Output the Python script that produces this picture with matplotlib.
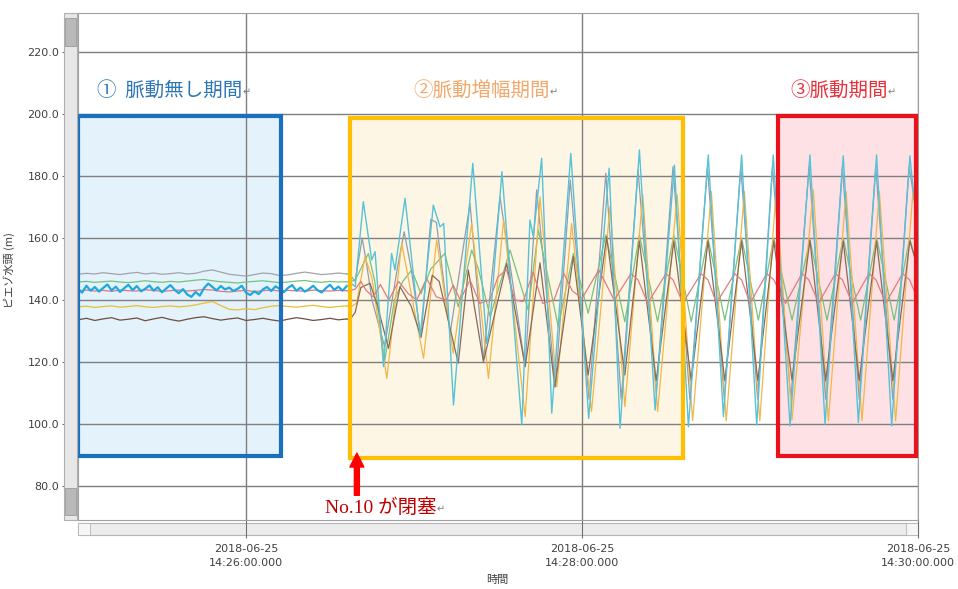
import numpy as np
import matplotlib.pyplot as plt
from matplotlib.patches import Rectangle

plt.rcParams['font.family'] = ['Noto Sans CJK JP', 'DejaVu Sans']

W, H = 958, 589

# x軸: 14:25:00 からの経過秒
x_ticks = [60, 180, 300]
x_ticklabels = ['2018-06-25\n14:26:00.000', '2018-06-25\n14:28:00.000',
                '2018-06-25\n14:30:00.000']
y_ticks = [80, 100, 120, 140, 160, 180, 200, 220]

# 脈動無し期間 (3秒ごと, シアンのみ1.5秒ごと)
gray_flat = [148.3, 148.6, 148.4, 148.8, 148.5, 148.2, 148.6, 148.9, 148.4, 148.7, 148.3,
             148.5, 148.8, 148.4, 148.6, 149.3, 149.7, 149.0, 148.3, 148.0, 147.7, 148.2,
             148.7, 148.5, 147.9, 148.1, 148.6, 149.0, 148.6, 148.2, 148.4, 148.7, 148.4]
green_flat = [145.8, 146.0, 145.7, 145.9, 146.1, 145.8, 145.6, 145.9, 146.2, 145.9, 145.7,
              146.0, 145.8, 146.1, 146.4, 146.6, 146.2, 145.9, 145.7, 145.5, 145.8, 146.0,
              146.2, 145.9, 145.6, 145.8, 146.1, 146.3, 145.9, 145.7, 146.0, 145.8, 145.9]
yellow_flat = [137.8, 138.0, 137.6, 137.9, 138.1, 137.7, 137.9, 138.2, 137.8, 137.6, 137.9,
               138.1, 137.8, 138.0, 138.4, 139.0, 139.5, 138.2, 137.0, 136.8, 137.2, 136.9,
               137.5, 138.0, 138.2, 137.9, 137.7, 138.0, 138.3, 137.9, 137.6, 137.9, 138.1]
brown_flat = [133.6, 134.1, 133.4, 133.9, 134.3, 133.5, 133.8, 134.2, 133.3, 133.9, 134.4,
              133.7, 133.2, 133.8, 134.3, 134.6, 134.0, 133.5, 133.9, 134.2, 133.4, 133.7,
              134.1, 133.6, 133.2, 133.8, 134.3, 133.9, 133.4, 133.7, 134.1, 133.6, 133.9]
red_flat = [143.0, 143.2, 142.9, 143.1, 142.8, 143.2, 143.0, 142.9, 143.3, 143.1, 142.8,
            143.0, 143.2, 142.9, 143.1, 143.4, 143.2, 142.8, 142.6, 142.9, 143.1, 142.7,
            143.0, 143.2, 142.9, 143.1, 143.0, 142.8, 143.2, 143.0, 142.9, 143.1, 143.0]
cyan_flat = [143.5, 142.4, 144.6, 143.0, 144.2, 142.7, 143.9, 145.0, 143.1, 144.3, 142.6,
             143.8, 144.9, 143.2, 144.5, 142.8, 143.6, 144.7, 143.0, 144.1, 142.5, 143.7,
             144.8, 143.3, 142.2, 143.5, 141.8, 141.0, 142.6, 141.4, 143.8, 145.3, 144.2,
             143.1, 144.5, 143.4, 144.0, 142.9, 143.6, 144.6, 142.4, 141.6, 142.8, 141.9,
             143.4, 144.2, 142.9, 144.4, 143.6, 142.5, 143.9, 144.8, 143.0, 144.0, 142.7,
             143.5, 144.6, 143.2, 142.4, 143.8, 144.9, 143.3, 144.3, 143.0, 144.5]

# 脈動増幅期間・脈動期間 (山と谷の読み取り値)
cyan_osc_t = [96, 97.5, 99, 101.9, 104.9, 106.1, 109.1, 112, 113.2, 116.8, 122.2, 126.9,
              129.3, 130.6, 134.1, 141, 146, 147, 151.4, 158.5, 161.4, 162.6, 165.6, 169.2,
              176, 182.4, 189.7, 193.6, 200.5, 206.1, 213, 218, 225.1, 230.5, 237, 242.4,
              248.3, 254.3, 261.4, 266.8, 273.3, 278.7, 285.2, 290.6, 297.1, 300]
cyan_osc_v = [144.5, 145.4, 144.3, 171.7, 152.9, 155.6, 118.5, 155.0, 149.7, 172.8, 128.2,
              170.6, 163.6, 164.7, 106.1, 184.1, 126.0, 131.0, 181.4, 99.7, 165.8, 160.4,
              185.7, 103.5, 187.3, 101.8, 182.5, 98.6, 188.4, 104.5, 183.5, 99.1, 186.8,
              102.4, 186.8, 99.7, 186.8, 99.4, 186.8, 100.0, 186.5, 100.5, 186.8, 99.4,
              186.5, 160.0]

gray_osc_t = [97, 99, 101.5, 103, 105, 109.5, 114, 116.5, 119, 122.5, 126, 128, 132.9, 140,
              144.8, 150.7, 159.7, 163.8, 170.5, 175.8, 182.5, 188.5, 194, 200, 206.5, 212.5,
              218.5, 224.8, 230.8, 236.7, 242.7, 248, 254.6, 261.1, 267, 273, 279, 284.9,
              291, 296.8, 300]
gray_osc_v = [148.3, 146.0, 160.0, 152.0, 140.0, 125.0, 150.0, 162.0, 150.0, 128.0, 166.0,
              165.0, 129.2, 171.2, 120.6, 173.3, 118.5, 175.5, 112.0, 178.7, 108.0, 180.9,
              108.0, 182.0, 110.0, 183.0, 108.0, 183.0, 108.0, 183.0, 108.0, 183.0, 108.0,
              183.0, 108.0, 183.0, 108.0, 183.0, 108.0, 183.0, 165.0]

yellow_osc_t = [97, 99.5, 102.5, 105, 110.3, 115.6, 123.4, 128.1, 134, 140.6, 146.6, 152,
                159.7, 165, 171, 176.3, 183.4, 190, 195.3, 201.7, 207, 214, 219.5, 226.2,
                231.5, 238, 243.5, 249.3, 255, 262.6, 268, 274.3, 280, 286.2, 292, 298.2, 300]
yellow_osc_v = [137.5, 139.0, 154.0, 147.0, 114.7, 158.3, 121.2, 159.3, 122.8, 164.7, 114.7,
                165.8, 102.4, 173.3, 112.0, 164.7, 104.0, 170.1, 105.6, 174.0, 104.0, 174.0,
                101.0, 175.0, 101.0, 175.0, 101.0, 175.0, 101.3, 175.5, 101.0, 175.0, 101.0,
                175.0, 101.0, 175.0, 168.0]

green_osc_t = [97, 99, 101, 103.7, 106, 109.5, 113, 116, 119.2, 122.5, 126, 131, 135.8, 140.6,
               143, 147.2, 154.3, 160.8, 164.4, 171.5, 176.9, 182.2, 188.5, 195.3, 200.5, 207,
               212.8, 219, 225, 231, 237, 243, 248.5, 255, 261.4, 267.5, 273.3, 279.5, 285.2,
               291.5, 297, 300]
green_osc_v = [145.8, 146.5, 150.0, 155.0, 146.0, 120.0, 140.0, 146.0, 149.7, 142.0, 150.0,
               155.0, 137.8, 156.1, 150.0, 134.6, 156.1, 136.8, 162.6, 131.4, 155.0, 135.7,
               161.0, 133.0, 161.0, 133.0, 161.0, 133.0, 160.0, 133.5, 160.0, 133.5, 160.0,
               133.5, 159.3, 133.5, 160.0, 133.5, 160.0, 133.5, 160.0, 150.0]

brown_osc_t = [97, 99, 101, 104.3, 107, 110.9, 115, 119, 122.5, 126.5, 129, 135.8, 139.4,
               144.8, 153.1, 159.7, 165, 170.3, 176.9, 182.2, 188.8, 195.3, 200.5, 206.5,
               212.8, 219, 225, 231, 237, 242.8, 248.5, 255, 261.4, 267, 273.3, 279, 285.2,
               291, 297.1, 300]
brown_osc_v = [133.5, 136.0, 144.0, 145.4, 138.0, 124.4, 144.3, 138.0, 128.0, 148.0, 146.0,
               119.6, 149.7, 120.1, 151.8, 118.5, 152.0, 112.0, 154.0, 115.8, 160.4, 115.8,
               159.0, 114.0, 159.0, 114.0, 159.0, 114.0, 159.0, 114.0, 159.0, 114.2, 159.3,
               114.0, 159.0, 114.0, 159.0, 114.0, 159.0, 150.0]

red_osc_t = [97, 99, 101, 103, 105.5, 108, 111, 114.5, 118, 121, 124.5, 128, 131.5, 134,
             136.5, 140, 143.5, 147, 150, 153.1, 156, 159, 162.5, 166, 170, 173.5, 176.5,
             180, 186, 191.5, 197.5, 200, 203.5, 210, 212.5, 216, 222.5, 225, 228, 234.5, 237,
             240, 246, 248.5, 252.7, 258.6, 261, 264.5, 270.5, 273, 276.5, 282.5, 285, 288.5,
             294.5, 297, 300]
red_osc_v = [143.0, 143.5, 146.0, 143.0, 141.0, 145.0, 140.0, 146.0, 142.0, 140.0, 147.0,
             141.0, 140.0, 144.8, 140.0, 146.4, 138.9, 140.0, 147.5, 149.7, 140.0, 139.5,
             149.0, 138.9, 140.0, 148.6, 143.0, 140.5, 149.7, 140.0, 148.5, 146.5, 139.0,
             148.5, 146.5, 139.0, 148.5, 146.5, 139.0, 148.5, 146.5, 139.0, 148.5, 146.5,
             138.9, 148.6, 146.5, 139.0, 148.5, 146.5, 139.0, 148.5, 146.5, 139.0, 148.5,
             146.5, 140.0]

# 期間の枠
period_names = ['①  脈動無し期間', '②脈動増幅期間', '③脈動期間']
period_t0 = [0.0, 97.1, 250.0]
period_t1 = [72.5, 216.0, 299.3]
period_lo = [89.7, 89.0, 89.7]
period_hi = [199.4, 198.7, 199.4]
label_t = [6.8, 119.6, 254.3]
label_v = 207.7

# 描画 --------------------------------------------------------------
fig = plt.figure(figsize=(W / 100, H / 100), dpi=100)
ax = fig.add_axes([78 / W, 1 - 520 / H, 840 / W, 507 / H])

def fx(px):
    return px / W

def fy(py):
    return 1 - py / H

box_edge = ['#1b6fbd', '#ffbf00', '#e8121c']
box_face = ['#e3f2fb', '#fef6e4', '#fde1e4']
label_col = ['#2e75b6', '#f2a86b', '#e8303a']

for i in range(3):
    ax.add_patch(Rectangle((period_t0[i], period_lo[i]), period_t1[i] - period_t0[i],
                           period_hi[i] - period_lo[i], facecolor=box_face[i],
                           edgecolor='none', zorder=0.2))
    ax.add_patch(Rectangle((period_t0[i], period_lo[i]), period_t1[i] - period_t0[i],
                           period_hi[i] - period_lo[i], fill=False, edgecolor=box_edge[i],
                           linewidth=3.0, zorder=4, clip_on=False))
    txt = ax.text(label_t[i], label_v, period_names[i], fontsize=14, color=label_col[i],
                  ha='left', va='center', zorder=5)
    ax.annotate('↵', xy=(1, 0.15), xycoords=txt, fontsize=7, color='#7f7f7f',
                ha='left', va='bottom', family=['DejaVu Sans'])

t3 = np.arange(len(gray_flat)) * 3.0
t15 = np.arange(len(cyan_flat)) * 1.5

# (平常時の値, 時刻, 脈動時の時刻, 値, 平常時の色, 脈動時の色, 線幅)
series = [
    (t3, gray_flat, gray_osc_t, gray_osc_v, '#a2a4a8', '#8f9db2', 0.9),
    (t3, green_flat, green_osc_t, green_osc_v, '#72c47a', '#78c27a', 0.9),
    (t3, yellow_flat, yellow_osc_t, yellow_osc_v, '#e6c02e', '#f2b648', 0.9),
    (t3, brown_flat, brown_osc_t, brown_osc_v, '#6e4f40', '#8a6a58', 0.9),
    (t3, red_flat, red_osc_t, red_osc_v, '#e0767a', '#e07c80', 0.9),
]
for tf, vf, to, vo, c_flat, c_osc, lw in series:
    ax.plot(tf, vf, color=c_flat, linewidth=lw, zorder=2)
    ax.plot([tf[-1]] + to, [vf[-1]] + vo, color=c_osc, linewidth=lw, zorder=2)

# シアン系列は平常時に太く濃く見える
ax.plot(t15, cyan_flat, color='#1ea8de', linewidth=1.6, zorder=2.1)
ax.plot(cyan_osc_t, cyan_osc_v, color='#56c2d8', linewidth=1.0, zorder=2.1)

# 閉塞の矢印と注記
ax.annotate('', xy=(99.6, 90.6), xytext=(99.6, 77.0),
            arrowprops=dict(arrowstyle='simple,head_width=1.0,head_length=1.0,tail_width=0.36',
                            color='#ff0000', mutation_scale=10, shrinkA=0, shrinkB=0),
            annotation_clip=False, zorder=6)
note = ax.text(88.2, 72.9, 'No.10 が閉塞', fontsize=14, color='#c00000', ha='left',
               va='center', family=['Liberation Serif', 'Noto Sans CJK JP'], zorder=6)
ax.annotate('↵', xy=(1, 0.15), xycoords=note, fontsize=7, color='#7f7f7f',
            ha='left', va='bottom', family=['DejaVu Sans'])

ax.set_xlim(0, 300)
ax.set_ylim(69.03, 232.58)
ax.set_xticks(x_ticks)
ax.set_xticklabels(x_ticklabels, fontsize=8, color='#404040', family=['DejaVu Sans'],
                   linespacing=1.6)
ax.set_yticks(y_ticks)
ax.set_yticklabels([f'{v:.1f}' for v in y_ticks], fontsize=8, color='#404040',
                   family=['DejaVu Sans'])
ax.tick_params(axis='x', length=13, width=0.8, color='#707070', pad=4)
ax.tick_params(axis='y', length=11.5, width=0.8, color='#707070', pad=2)
ax.grid(True, color='#7f7f7f', linewidth=1.0)
ax.set_axisbelow(True)
for s in ax.spines.values():
    s.set_color('#a0a0a0')
    s.set_linewidth(0.8)

ax.set_ylabel('ピエゾ水頭 (m)', fontsize=8, color='#404040')
ax.yaxis.set_label_coords(-0.075, 0.493)
ax.set_xlabel('時間', fontsize=8, color='#404040')
ax.xaxis.set_label_coords(0.499, -0.108)

# スクロールバー風の飾り
fig.add_artist(Rectangle((fx(64), fy(520)), fx(13), 507 / H, transform=fig.transFigure,
                         facecolor='#e8e8e8', edgecolor='#b0b0b0', linewidth=0.8, zorder=1))
for top, bot in [(18, 46), (488, 515)]:
    fig.add_artist(Rectangle((fx(65), fy(bot)), fx(11), (bot - top) / H,
                             transform=fig.transFigure, facecolor='#b9b9b9',
                             edgecolor='#9a9a9a', linewidth=0.6, zorder=1.1))
fig.add_artist(Rectangle((fx(78), fy(535)), fx(840), 12 / H, transform=fig.transFigure,
                         facecolor='#ececec', edgecolor='#b5b5b5', linewidth=0.8, zorder=-1))
for left in [78, 906]:
    fig.add_artist(Rectangle((fx(left), fy(535)), fx(12), 12 / H, transform=fig.transFigure,
                             facecolor='#f6f6f6', edgecolor='#b5b5b5', linewidth=0.6,
                             zorder=-0.9))

fig.savefig('out.png', dpi=100, facecolor='white')
